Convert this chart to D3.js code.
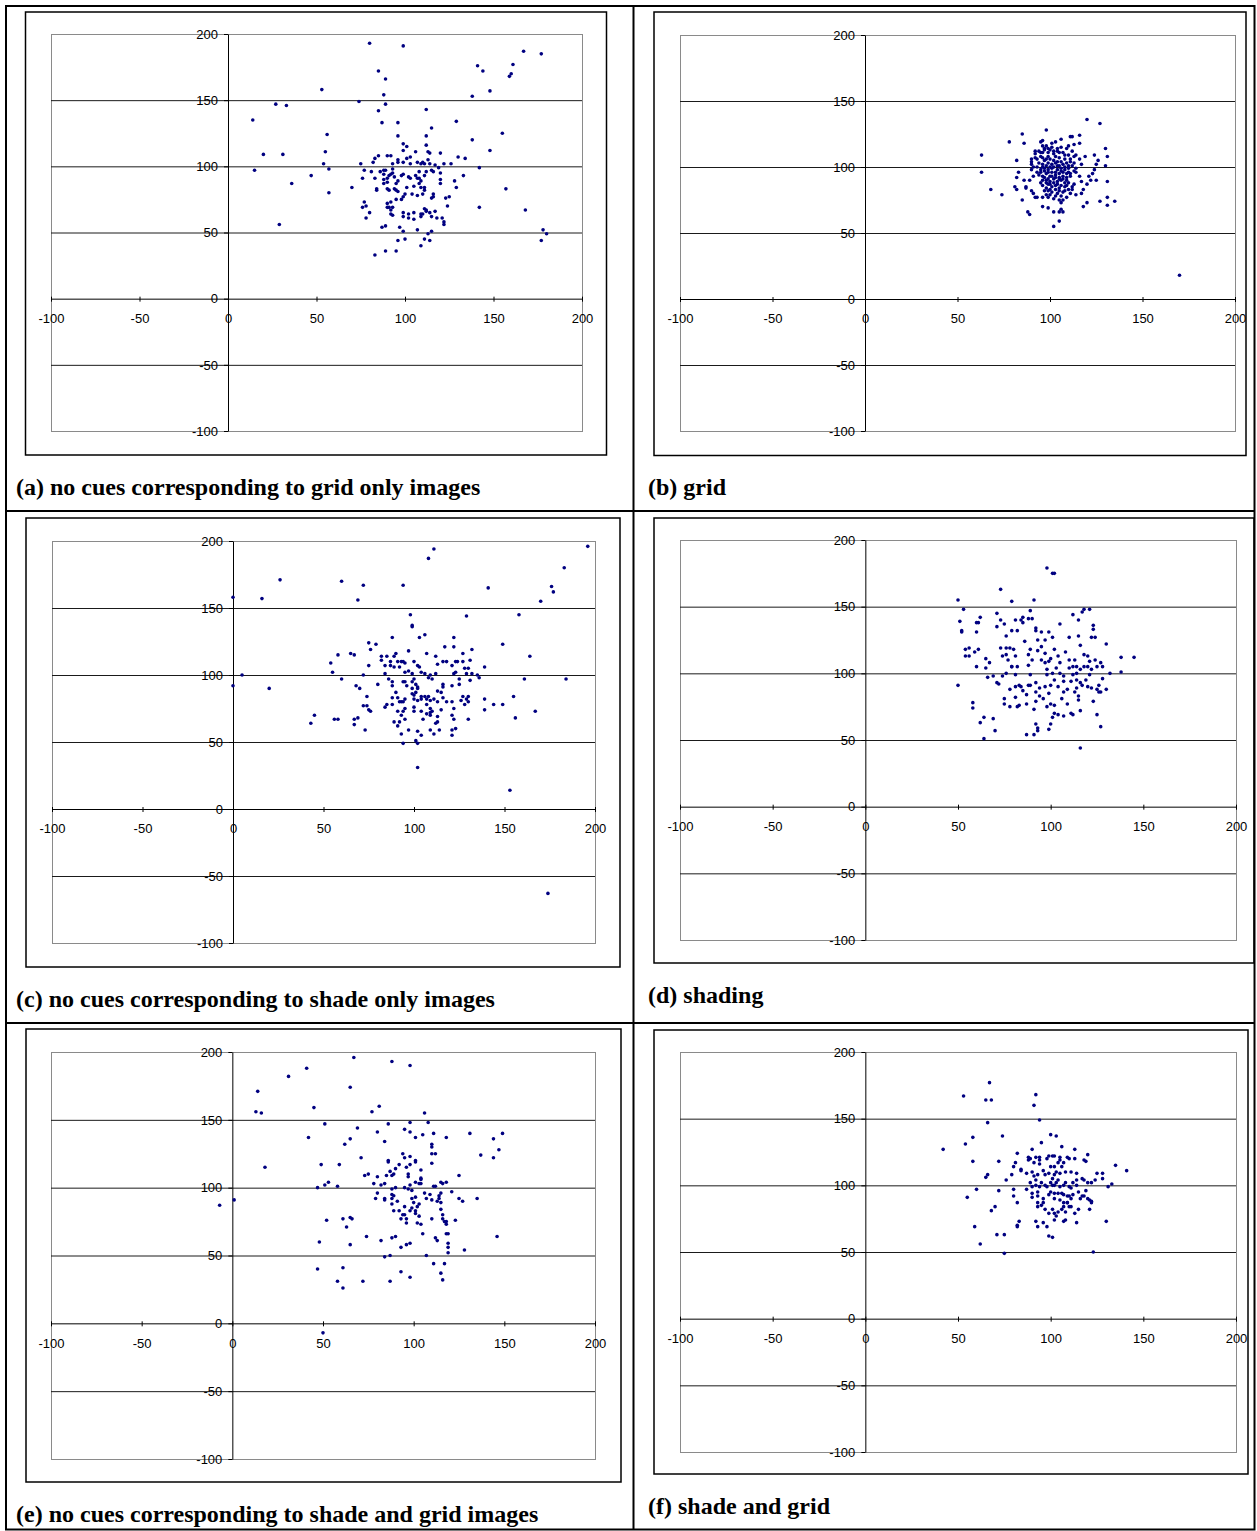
<!DOCTYPE html>
<html>
<head>
<meta charset="utf-8">
<script src="https://cdn.jsdelivr.net/npm/d3@7"></script>
<style>
  body { margin: 0; background: #fff; }
</style>
</head>
<body>
<div id="chart"></div>
<script>
// Axis ticks shared by all six panels
const ticks = [-100, -50, 0, 50, 100, 150, 200];
const gridValues = [-50, 50, 100, 150];

const captions = [
  "(a) no cues corresponding to grid only images",
  "(b) grid",
  "(c) no cues corresponding to shade only images",
  "(d) shading",
  "(e) no cues corresponding to shade and grid images",
  "(f) shade and grid"
];

// Points, [x, y]
const ptsA = [[80,193],[99,191],[167,187],[177,185],[141,176],[144,172],[161,177],[160,170],[159,168],[85,172],[89,166],[53,158],[88,154],[138,153],[148,157],[27,147],[33,146],[74,149],[89,147],[85,142],[112,143],[14,135],[87,133],[96,133],[129,134],[115,129],[56,124],[96,123],[112,123],[155,125],[138,120],[99,117],[101,115],[99,112],[112,116],[148,112],[20,109],[31,109],[55,111],[106,111],[113,111],[114,110],[120,110],[83,106],[85,108],[90,108],[92,108],[96,105],[103,107],[101,106],[113,105],[130,107],[134,106],[54,102],[57,98],[75,102],[82,103],[93,102],[96,103],[99,103],[103,102],[107,103],[109,102],[110,103],[111,102],[114,102],[117,101],[119,99],[122,102],[126,102],[142,99],[15,97],[47,93],[36,87],[57,80],[70,84],[77,97],[76,91],[81,96],[83,91],[86,96],[88,97],[89,97],[93,98],[93,95],[88,94],[91,93],[92,94],[94,92],[88,90],[90,91],[88,87],[90,88],[95,87],[96,89],[84,83],[84,82],[90,83],[91,82],[94,83],[95,82],[101,84],[105,85],[98,93],[99,94],[102,92],[103,91],[106,93],[107,91],[108,91],[109,89],[111,93],[108,96],[112,96],[115,97],[116,96],[120,95],[120,90],[120,87],[108,87],[109,84],[111,84],[111,82],[110,79],[107,78],[104,79],[100,79],[96,81],[98,75],[99,77],[95,75],[92,73],[115,76],[116,77],[116,79],[123,76],[125,77],[128,89],[129,84],[133,93],[157,83],[168,67],[142,69],[77,73],[76,69],[78,70],[78,61],[80,65],[90,72],[90,69],[91,69],[92,67],[93,69],[92,64],[93,63],[99,65],[99,62],[102,64],[105,65],[105,60],[102,61],[109,64],[109,62],[110,64],[111,68],[112,67],[112,66],[114,65],[115,62],[117,66],[118,61],[121,61],[122,58],[122,56],[124,70],[87,54],[89,55],[97,54],[99,51],[107,52],[113,49],[115,51],[29,56],[96,44],[100,45],[111,45],[114,44],[109,40],[89,36],[95,36],[83,33],[178,52],[180,49],[177,44]];

const ptsB = [[63,109],[63,96],[68,83],[74,79],[78,119],[85,125],[86,118],[98,128],[120,136],[127,133],[130,114],[131,108],[130,101],[131,89],[135,74],[131,77],[131,71],[127,74],[118,70],[120,73],[102,55],[105,59],[88,66],[89,64],[96,70],[99,69],[102,66],[105,66],[107,66],[106,68],[85,75],[82,105],[83,96],[82,92],[81,85],[82,83],[86,90],[87,85],[87,84],[90,82],[91,80],[92,77],[93,77],[96,77],[98,79],[103,119],[106,121],[111,123],[112,123],[116,124],[116,118],[113,117],[110,116],[95,119],[96,120],[101,118],[99,114],[97,113],[95,111],[92,107],[92,112],[92,110],[90,106],[90,104],[90,102],[91,100],[90,98],[93,96],[91,93],[89,90],[119,108],[124,109],[126,105],[125,102],[124,98],[123,95],[125,90],[122,90],[121,93],[120,87],[118,83],[117,80],[114,79],[111,80],[112,85],[116,106],[117,102],[114,99],[114,96],[116,93],[117,89],[170,18],
  [96,116],[98,116],[101,115],[104,114],[106,115],[109,114],[112,112],[114,109],[94,112],[96,111],[99,111],[102,112],[105,111],[107,111],[110,109],[113,108],[93,106],[96,107],[98,106],[100,106],[103,108],[105,107],[108,106],[111,104],[113,103],[94,103],[96,102],[99,103],[101,102],[103,103],[105,101],[107,102],[110,101],[112,101],[95,98],[97,99],[99,98],[101,99],[104,98],[106,97],[108,98],[110,96],[113,97],[94,94],[96,93],[98,95],[100,93],[103,94],[105,92],[107,93],[109,92],[111,93],[96,90],[98,90],[100,89],[102,91],[104,89],[106,90],[108,88],[110,88],[113,87],[96,86],[99,87],[101,85],[103,86],[105,84],[108,85],[110,83],[112,83],[97,82],[99,82],[101,81],[104,80],[106,78],[108,82],[109,77],[99,77],[102,76],[105,75],[106,73],[107,75],
  [97,114],[100,113],[102,110],[104,112],[108,109],[95,108],[97,105],[99,108],[102,105],[104,104],[106,104],[109,103],[111,106],[93,100],[96,100],[98,101],[100,100],[102,100],[104,101],[106,99],[108,100],[110,99],[95,96],[97,97],[99,96],[101,96],[103,96],[105,95],[107,96],[109,95],[111,95],[97,92],[99,91],[101,93],[103,92],[105,91],[107,91],[109,90],[95,88],[98,88],[100,87],[102,88],[104,87],[106,86],[109,86],[98,84],[100,83],[103,83],[105,82],[107,81],[103,78],[100,79]];

const ptsC = [[111,194],[108,187],[196,196],[183,180],[176,166],[177,162],[170,155],[141,165],[94,167],[60,170],[72,167],[69,156],[26,171],[16,157],[0,158],[158,145],[129,144],[98,145],[99,137],[99,136],[88,128],[103,128],[106,130],[122,128],[122,121],[117,121],[75,124],[79,123],[76,119],[149,123],[164,114],[132,119],[127,116],[54,109],[55,102],[58,115],[60,97],[65,116],[67,115],[0,92],[5,100],[20,90],[43,64],[45,70],[56,67],[58,67],[67,67],[67,63],[69,68],[73,59],[68,92],[70,90],[72,77],[74,84],[75,74],[76,73],[74,77],[72,100],[75,107],[80,93],[82,114],[82,111],[85,114],[87,110],[89,114],[90,116],[91,110],[93,110],[94,110],[95,109],[97,118],[84,107],[87,107],[89,106],[92,106],[95,102],[97,103],[84,101],[86,97],[88,95],[88,92],[94,95],[96,92],[95,95],[99,101],[100,97],[99,95],[101,93],[102,91],[99,90],[102,90],[101,87],[99,86],[100,85],[100,110],[102,107],[103,106],[104,102],[106,101],[108,98],[110,97],[109,100],[112,101],[113,108],[112,114],[107,116],[116,110],[118,110],[121,107],[123,110],[124,110],[127,110],[128,105],[130,105],[131,111],[122,101],[123,102],[125,97],[125,93],[121,92],[116,93],[116,91],[115,87],[113,88],[129,101],[131,96],[132,101],[135,100],[136,98],[139,106],[90,87],[91,83],[88,83],[92,80],[93,80],[95,82],[88,78],[85,78],[84,76],[94,80],[95,75],[94,73],[93,70],[95,67],[91,73],[92,65],[89,65],[91,62],[93,56],[94,49],[100,82],[102,81],[104,84],[106,84],[104,82],[100,76],[100,73],[104,73],[105,67],[102,58],[101,51],[102,49],[104,55],[97,59],[107,82],[108,84],[107,78],[109,81],[109,75],[109,72],[109,70],[110,73],[111,82],[113,80],[113,69],[112,64],[113,65],[107,71],[109,59],[111,56],[114,59],[115,74],[116,83],[118,80],[121,80],[122,75],[121,70],[122,67],[121,59],[123,60],[121,55],[126,81],[127,84],[129,82],[130,84],[128,78],[130,80],[130,67],[139,82],[139,74],[144,78],[149,78],[155,84],[156,68],[161,97],[167,73],[184,97],[102,31],[174,-63],[153,14]];

const ptsD = [[98,179],[101,175],[102,175],[73,163],[50,155],[53,148],[79,154],[91,155],[89,147],[88,141],[51,139],[52,132],[52,131],[60,138],[61,138],[62,142],[60,131],[71,145],[73,140],[75,137],[71,135],[81,140],[84,140],[85,142],[85,138],[82,132],[79,132],[76,128],[90,141],[92,134],[92,132],[95,131],[93,125],[97,125],[99,131],[101,127],[105,137],[110,127],[112,144],[115,140],[117,146],[118,148],[121,148],[115,128],[116,121],[123,136],[123,133],[122,127],[124,127],[130,122],[54,118],[56,119],[54,113],[56,113],[59,116],[61,118],[60,105],[65,111],[65,104],[67,108],[66,97],[50,91],[58,78],[58,74],[62,63],[64,67],[64,51],[69,66],[70,57],[71,93],[72,92],[69,98],[73,119],[76,119],[74,113],[76,114],[77,110],[79,105],[76,100],[74,98],[75,81],[75,77],[78,119],[80,118],[81,113],[79,105],[82,105],[81,99],[81,90],[83,91],[84,90],[85,87],[78,88],[78,75],[81,82],[82,75],[83,76],[86,124],[88,114],[89,118],[90,110],[88,106],[89,99],[88,91],[87,84],[87,77],[89,91],[92,93],[92,86],[92,79],[94,83],[94,89],[91,73],[92,62],[91,54],[93,117],[95,120],[97,115],[95,110],[97,108],[98,103],[99,109],[100,111],[98,99],[101,100],[102,95],[100,91],[97,90],[96,81],[98,75],[99,85],[100,77],[102,76],[101,67],[102,70],[104,69],[107,68],[99,58],[100,62],[93,57],[93,59],[87,54],[102,118],[104,113],[105,108],[103,104],[105,100],[107,98],[107,94],[104,90],[107,86],[106,81],[109,88],[109,77],[111,70],[112,69],[108,116],[110,110],[110,104],[112,105],[113,110],[112,99],[111,94],[114,95],[114,89],[113,86],[115,83],[115,80],[116,72],[116,44],[118,114],[120,113],[120,105],[121,109],[122,103],[121,99],[119,95],[117,91],[120,90],[122,89],[126,91],[125,88],[126,86],[127,86],[124,110],[125,105],[127,108],[128,105],[128,96],[118,105],[116,103],[114,105],[114,100],[116,93],[130,88],[132,100],[138,101],[145,112],[138,112],[125,69],[127,60],[123,79]];

const ptsE = [[-7,87],[1,91],[14,171],[13,156],[16,155],[18,115],[31,182],[41,188],[67,196],[88,193],[98,190],[65,174],[45,159],[42,137],[51,147],[62,132],[65,136],[69,144],[71,122],[49,117],[59,117],[47,100],[51,102],[53,104],[58,101],[52,76],[61,77],[63,71],[65,78],[66,77],[65,58],[48,60],[47,40],[61,41],[58,31],[61,26],[72,31],[74,64],[82,61],[84,49],[87,50],[87,31],[88,63],[90,64],[93,56],[96,58],[98,59],[93,38],[98,34],[73,109],[75,110],[78,103],[80,108],[81,160],[77,156],[80,141],[84,134],[86,147],[86,119],[86,120],[82,102],[84,103],[85,109],[87,112],[88,109],[89,110],[90,114],[92,117],[94,125],[95,122],[96,115],[97,110],[97,108],[98,123],[98,117],[101,119],[101,120],[104,113],[104,106],[104,103],[95,143],[98,141],[101,137],[98,148],[105,139],[106,155],[108,148],[111,140],[110,125],[110,118],[112,125],[118,137],[110,132],[110,130],[80,96],[79,92],[84,92],[84,91],[88,95],[88,92],[89,94],[88,88],[89,83],[91,90],[92,83],[94,80],[93,77],[95,86],[95,80],[96,77],[96,74],[98,83],[99,85],[88,99],[90,100],[95,100],[97,99],[98,102],[99,98],[101,104],[103,103],[104,107],[101,93],[99,92],[100,89],[102,86],[103,88],[101,83],[101,81],[103,79],[102,74],[104,73],[105,66],[107,50],[111,44],[117,44],[115,37],[116,32],[106,96],[107,92],[109,95],[110,91],[111,101],[112,101],[113,90],[114,94],[114,92],[115,96],[115,89],[115,84],[116,77],[117,75],[110,77],[116,80],[118,75],[118,73],[118,66],[119,66],[119,59],[119,56],[119,52],[112,63],[113,61],[115,104],[116,103],[118,104],[121,97],[123,76],[125,109],[125,92],[127,90],[128,54],[131,140],[135,92],[137,124],[144,136],[147,128],[144,122],[149,140],[146,64],[50,-7]];

const ptsF = [[67,177],[53,167],[65,164],[68,164],[92,168],[91,160],[66,147],[94,149],[42,127],[54,131],[58,136],[74,137],[58,118],[72,118],[65,106],[66,108],[76,104],[79,108],[82,124],[80,114],[81,117],[60,97],[55,91],[72,96],[80,97],[80,92],[82,87],[68,81],[70,84],[59,69],[71,63],[75,63],[62,56],[75,49],[83,73],[82,70],[82,69],[90,127],[95,132],[100,138],[103,137],[106,129],[113,127],[120,123],[118,119],[119,118],[84,112],[84,111],[87,109],[88,121],[88,119],[89,120],[91,117],[92,121],[94,121],[94,119],[94,116],[90,110],[98,120],[99,122],[101,122],[102,122],[105,121],[105,119],[104,117],[107,117],[106,114],[109,121],[110,120],[113,120],[100,114],[102,114],[103,110],[91,107],[92,104],[93,108],[96,111],[97,108],[99,109],[101,105],[102,108],[104,104],[105,109],[108,110],[111,110],[114,109],[114,104],[117,105],[118,104],[120,102],[122,102],[124,104],[125,109],[128,109],[128,105],[89,102],[90,99],[92,100],[94,99],[95,102],[97,100],[98,99],[100,102],[101,100],[102,100],[103,102],[105,99],[107,100],[108,102],[110,99],[111,98],[112,102],[114,100],[87,97],[90,94],[93,95],[93,92],[90,91],[93,87],[93,84],[95,85],[96,90],[99,93],[100,95],[102,94],[102,90],[104,94],[106,94],[107,93],[109,92],[110,92],[105,89],[107,87],[109,87],[111,90],[112,93],[115,95],[116,90],[117,92],[118,92],[120,90],[121,89],[119,96],[122,87],[96,87],[97,82],[99,79],[101,82],[102,79],[103,77],[104,80],[106,82],[107,84],[108,80],[109,87],[110,84],[111,84],[113,79],[115,82],[114,72],[107,73],[108,74],[102,74],[101,61],[99,62],[92,73],[93,69],[96,72],[98,69],[121,82],[122,88],[130,73],[123,50],[131,99],[133,101],[135,115],[141,111]];

// Page layout
const width = 1257;
const height = 1531;

// box = chart frame, plot = inner plot area, cap = caption anchor
const panels = [
  { pts: ptsA, caption: captions[0], box: [25.5, 12, 606.5, 455], plot: [51, 34, 582, 431], cap: [16, 495] },
  { pts: ptsB, caption: captions[1], box: [654, 12, 1246, 455.5], plot: [680, 35, 1235, 431], cap: [648, 495] },
  { pts: ptsC, caption: captions[2], box: [26, 518, 620, 967], plot: [52, 541, 595, 943], cap: [16, 1007] },
  { pts: ptsD, caption: captions[3], box: [654, 518, 1254, 963], plot: [680, 540, 1236, 940], cap: [648, 1003] },
  { pts: ptsE, caption: captions[4], box: [26, 1029, 621, 1482], plot: [51, 1052, 595, 1459], cap: [16, 1522] },
  { pts: ptsF, caption: captions[5], box: [654, 1030, 1248, 1474], plot: [680, 1052, 1236, 1452], cap: [648, 1514] }
];

const tickFont = "'Liberation Sans', Arial, sans-serif";
const plainNum = d => String(d); // hyphen minus, like the original

const svg = d3.select("#chart").append("svg")
  .attr("width", width)
  .attr("height", height)
  .style("display", "block");

svg.append("rect")
  .attr("width", width)
  .attr("height", height)
  .attr("fill", "#fff");

// Draw each panel
panels.forEach(p => {
  const [bx0, by0, bx1, by1] = p.box;
  const [px0, py0, px1, py1] = p.plot;
  const g = svg.append("g");

  g.append("rect")
    .attr("x", bx0).attr("y", by0)
    .attr("width", bx1 - bx0).attr("height", by1 - by0)
    .attr("fill", "#fff")
    .attr("stroke", "#000")
    .attr("stroke-width", 1.5);

  const x = d3.scaleLinear().domain([-100, 200]).range([px0, px1]);
  const y = d3.scaleLinear().domain([-100, 200]).range([py1, py0]);

  g.append("rect")
    .attr("x", px0 + 0.5).attr("y", py0 + 0.5)
    .attr("width", px1 - px0).attr("height", py1 - py0)
    .attr("fill", "none")
    .attr("stroke", "#8a8a8a")
    .attr("stroke-width", 1);

  // horizontal gridlines
  g.append("g")
    .attr("transform", `translate(${px0},0)`)
    .call(d3.axisLeft(y).tickValues(gridValues).tickSize(-(px1 - px0)).tickFormat(""))
    .call(a => a.select(".domain").remove())
    .call(a => a.selectAll(".tick line").attr("stroke", "#1a1a1a"));

  // x axis along y = 0
  g.append("g")
    .attr("transform", `translate(0,${y(0)})`)
    .call(d3.axisBottom(x).tickValues(ticks).tickFormat(plainNum)
      .tickSize(3).tickSizeOuter(0).tickPadding(12))
    .call(a => a.select(".domain").attr("stroke", "#000"))
    .call(a => a.selectAll(".tick line").attr("y1", -2).attr("stroke", "#000"))
    .call(a => a.selectAll(".tick text")
      .attr("font-family", tickFont)
      .attr("font-size", 13)
      .attr("fill", "#000"));

  // y axis along x = 0
  g.append("g")
    .attr("transform", `translate(${x(0)},0)`)
    .call(d3.axisLeft(y).tickValues(ticks).tickFormat(plainNum)
      .tickSize(4).tickSizeOuter(0).tickPadding(6))
    .call(a => a.select(".domain").attr("stroke", "#000"))
    .call(a => a.selectAll(".tick line").attr("stroke", "#000"))
    .call(a => a.selectAll(".tick text")
      .attr("font-family", tickFont)
      .attr("font-size", 13)
      .attr("fill", "#000"));

  g.append("g")
    .selectAll("circle")
    .data(p.pts)
    .join("circle")
      .attr("cx", d => x(d[0]))
      .attr("cy", d => y(d[1]))
      .attr("r", 1.8)
      .attr("fill", "#000080");

  svg.append("text")
    .attr("x", p.cap[0])
    .attr("y", p.cap[1])
    .attr("font-family", "'Liberation Serif', 'Times New Roman', serif")
    .attr("font-weight", "bold")
    .attr("font-size", 24)
    .attr("fill", "#000")
    .text(p.caption);
});

// Table rules
const rules = svg.append("g").attr("stroke", "#000").attr("fill", "none");
rules.append("rect")
  .attr("x", 6).attr("y", 6)
  .attr("width", 1248.5).attr("height", 1523.5)
  .attr("stroke-width", 2);
rules.append("line").attr("x1", 633.5).attr("x2", 633.5).attr("y1", 6).attr("y2", 1530).attr("stroke-width", 2);
rules.append("line").attr("x1", 6).attr("x2", 1255).attr("y1", 511).attr("y2", 511).attr("stroke-width", 2);
rules.append("line").attr("x1", 6).attr("x2", 1255).attr("y1", 1023).attr("y2", 1023).attr("stroke-width", 2);
</script>
</body>
</html>
